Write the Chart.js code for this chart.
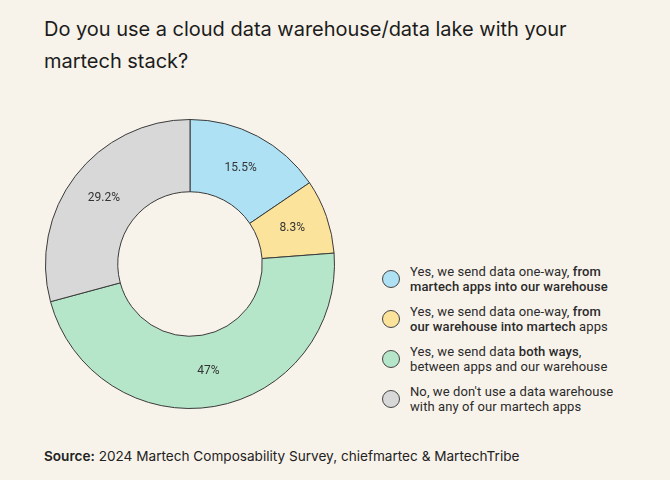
<!DOCTYPE html>
<html>
<head>
<meta charset="utf-8">
<script src="https://cdn.jsdelivr.net/npm/chart.js@4/dist/chart.umd.min.js"></script>
<style>
  html, body { margin: 0; padding: 0; }
  body {
    width: 670px; height: 480px; background: #f8f3ea; position: relative;
    font-family: Inter, "Noto Sans", sans-serif; color: #1c1c1c; overflow: hidden;
  }
  #title {
    position: absolute; left: 44px; top: 13px; width: 620px;
    font-size: 20px; line-height: 32px; font-weight: 400; letter-spacing: -0.02px;
  }
  #chartBox { position: absolute; left: 45px; top: 119px; width: 290px; height: 290px; }
  #legend { position: absolute; left: 382px; top: 259px; width: 280px; font-family: Roboto, sans-serif; }
  .item { display: flex; align-items: center; height: 40px; }
  .dot {
    width: 18px; height: 18px; border-radius: 50%; border: 1px solid #444;
    box-sizing: border-box; margin-right: 10px; flex: none;
  }
  .item span { font-size: 13px; line-height: 15px; color: #2a2a2a; letter-spacing: 0.1px; }
  .item b { font-weight: 500; }
  #source { position: absolute; left: 44px; top: 448px; font-size: 13.6px; color: #222; }
  #source b { font-weight: 600; }
</style>
</head>
<body>
<div id="title">Do you use a cloud data warehouse/data lake with your<br>martech stack?</div>
<div id="chartBox"><canvas id="donut"></canvas></div>
<div id="legend"></div>
<div id="source"><b>Source:</b> 2024 Martech Composability Survey, chiefmartec &amp; MartechTribe</div>
<script>
// setup
const categories = [
  'Yes, we send data one-way, <b>from</b><br><b>martech apps into our warehouse</b>',
  'Yes, we send data one-way, <b>from</b><br><b>our warehouse into martech</b> apps',
  'Yes, we send data <b>both ways</b>,<br>between apps and our warehouse',
  'No, we don\'t use a data warehouse<br>with any of our martech apps'
];
const values = [15.5, 8.3, 47, 29.2];
const valueLabels = ['15.5%', '8.3%', '47%', '29.2%'];
const colors = ['#aee1f4', '#fbe39c', '#b5e6c9', '#d9d8d8'];

// slice labels
const sliceLabels = {
  id: 'sliceLabels',
  afterDatasetsDraw(chart) {
    const ctx = chart.ctx;
    const meta = chart.getDatasetMeta(0);
    ctx.save();
    ctx.font = '12px Roboto, "Noto Sans", sans-serif';
    ctx.fillStyle = '#333';
    ctx.textAlign = 'center';
    ctx.textBaseline = 'middle';
    meta.data.forEach((arc, i) => {
      const p = arc.tooltipPosition();
      ctx.fillText(valueLabels[i], p.x, p.y);
    });
    ctx.restore();
  }
};

// config
const config = {
  type: 'doughnut',
  data: {
    labels: categories,
    datasets: [{
      data: values,
      backgroundColor: colors,
      borderColor: '#3a3a3a',
      borderWidth: 1
    }]
  },
  options: {
    responsive: true,
    maintainAspectRatio: false,
    animation: false,
    cutout: '50%',
    layout: { padding: 0 },
    plugins: {
      legend: { display: false },
      tooltip: { enabled: false }
    }
  },
  plugins: [sliceLabels]
};

const donutChart = new Chart(document.getElementById('donut'), config);

// legend
const legend = document.getElementById('legend');
categories.forEach((c, i) => {
  const item = document.createElement('div');
  item.className = 'item';
  item.innerHTML = '<div class="dot" style="background:' + colors[i] + '"></div><span>' + c + '</span>';
  legend.appendChild(item);
});
</script>
</body>
</html>
